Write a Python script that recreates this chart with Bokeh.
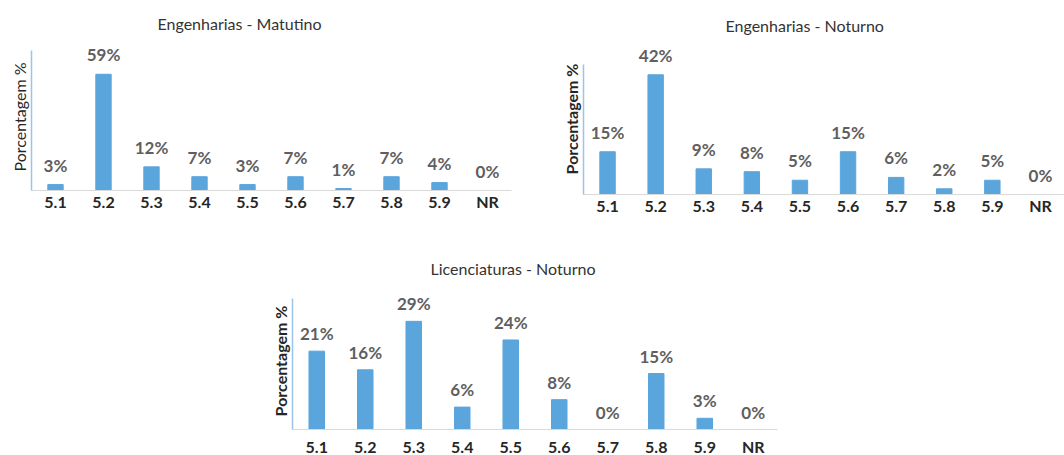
from bokeh.plotting import figure
from bokeh.models import FactorRange, Range1d, FixedTicker, ColumnDataSource, Spacer
from bokeh.layouts import column, row
from bokeh.core.properties import value
from bokeh.embed import file_html
from bokeh.resources import INLINE

# Questions 5.1 - 5.9 plus "no answer"
categories = ["5.1", "5.2", "5.3", "5.4", "5.5", "5.6", "5.7", "5.8", "5.9", "NR"]

# Percentage of answers per group
eng_matutino = [3, 59, 12, 7, 3, 7, 1, 7, 4, 0]
eng_noturno = [15, 42, 9, 8, 5, 15, 6, 2, 5, 0]
lic_noturno = [21, 16, 29, 6, 24, 8, 0, 15, 3, 0]

titles = ["Engenharias - Matutino", "Engenharias - Noturno", "Licenciaturas - Noturno"]
y_label = "Porcentagem %"

FONT = "Lato"
BAR = "#5aa5dc"


def make_chart(title, values, frame_w, frame_h, y_max, axis_top, borders,
               title_offset, title_standoff, ylabel_style, tick_standoff,
               label_offset):
    left, right, top, bottom = borders
    src = ColumnDataSource(dict(cat=categories, val=values,
                                lbl=[f"{v}%" for v in values]))
    p = figure(x_range=FactorRange(factors=categories, range_padding=0),
               y_range=Range1d(0, y_max),
               frame_width=frame_w, frame_height=frame_h,
               min_border_left=left, min_border_right=right,
               min_border_top=top, min_border_bottom=bottom,
               output_backend="svg", toolbar_location=None, title=title)
    p.vbar(x="cat", top="val", width=0.32, source=src, color=BAR)
    p.text(x="cat", y="val", text="lbl", source=src,
           text_align="center", text_baseline="bottom", y_offset=label_offset,
           text_font=value(FONT), text_font_size="17px",
           text_font_style="bold", text_color="#5f5f5f")

    p.title.text_font = FONT
    p.title.text_font_size = "16px"
    p.title.text_font_style = "normal"
    p.title.text_color = "#333333"
    p.title.align = "left"
    p.title.offset = title_offset
    p.title.standoff = title_standoff

    p.xgrid.visible = False
    p.ygrid.visible = False
    p.outline_line_color = None
    p.background_fill_color = "white"
    p.border_fill_color = "white"

    ya = p.yaxis[0]
    ya.ticker = FixedTicker(ticks=[])
    ya.bounds = (0, axis_top)
    ya.axis_line_color = "#9dc3e6"
    ya.axis_line_width = 1.5
    ya.major_tick_out = 0
    ya.minor_tick_out = 0
    ya.major_label_standoff = 0
    ya.axis_label = y_label
    ya.axis_label_standoff = 3
    ya.axis_label_text_font = FONT
    ya.axis_label_text_font_size = "16px"
    ya.axis_label_text_font_style = ylabel_style
    ya.axis_label_text_color = "#262626"

    xa = p.xaxis[0]
    xa.axis_line_color = "#d9d9d9"
    xa.major_tick_line_color = None
    xa.minor_tick_line_color = None
    xa.major_tick_out = 0
    xa.major_label_standoff = tick_standoff
    xa.major_label_text_font = FONT
    xa.major_label_text_font_size = "16px"
    xa.major_label_text_font_style = "bold"
    xa.major_label_text_color = "#262626"
    return p


p1 = make_chart(titles[0], eng_matutino, 480, 147, 147 / 1.97, 140 / 1.97,
                (31, 29, 43, 43), 126, 21, "normal", 1, -9)
p2 = make_chart(titles[1], eng_noturno, 481, 151, 151 / 2.85, 130 / 2.85,
                (43, 0, 42, 40), 142, 17, "bold", 1, -9)
p3 = make_chart(titles[2], lic_noturno, 485, 137, 137 / 3.73, 131 / 3.73,
                (32, 20, 59, 26), 138, 29, "bold", 7, -7)

layout = column(row(p1, p2), row(Spacer(width=260, height=220), p3))

open("out.html", "w").write(file_html(layout, INLINE))
